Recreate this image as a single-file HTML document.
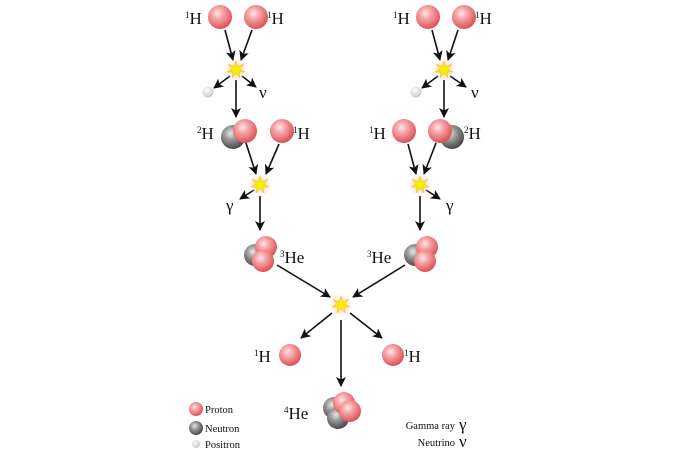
<!DOCTYPE html>
<html><head><meta charset="utf-8"><style>
body{margin:0;background:#fff}
svg{display:block}
text{font-family:"Liberation Serif",serif;fill:#111}
</style></head><body>
<svg width="700" height="460" viewBox="0 0 700 460" xmlns="http://www.w3.org/2000/svg">
<defs>
<radialGradient id="p" cx="0.4" cy="0.35" r="0.65"><stop offset="0" stop-color="#fde6e6"/><stop offset="0.4" stop-color="#f4a0a2"/><stop offset="1" stop-color="#dc5258"/></radialGradient>
<radialGradient id="n" cx="0.4" cy="0.35" r="0.65"><stop offset="0" stop-color="#e8e8e8"/><stop offset="0.4" stop-color="#9a9a9a"/><stop offset="1" stop-color="#4a4a4a"/></radialGradient>
<radialGradient id="e" cx="0.4" cy="0.35" r="0.65"><stop offset="0" stop-color="#fff"/><stop offset="1" stop-color="#c8c8c8"/></radialGradient>
<radialGradient id="g" cx="0.5" cy="0.5" r="0.5"><stop offset="0" stop-color="#ffb0b0" stop-opacity="0.9"/><stop offset="1" stop-color="#ffd0d0" stop-opacity="0"/></radialGradient>
<marker id="a" markerWidth="10" markerHeight="10" refX="9" refY="5" orient="auto" markerUnits="userSpaceOnUse"><path d="M0,0 L10,5 L0,10 L2.5,5z" fill="#111"/></marker>
<g id="star"><circle r="12" fill="url(#g)"/><path d="M0,-9 L2,-3 L8,-6 L4,-1 L9,2 L3,2 L4,8 L0,3 L-4,8 L-3,2 L-9,2 L-4,-1 L-8,-6 L-2,-3z" fill="#f6f000" stroke="#e8c000" stroke-width="0.5"/></g>
</defs>
<g stroke="#111" stroke-width="1.6" fill="none" marker-end="url(#a)">
<line x1="225" y1="30" x2="233" y2="60"/><line x1="252" y1="30" x2="241" y2="60"/>
<line x1="230" y1="76" x2="214" y2="88"/><line x1="242" y1="76" x2="256" y2="87"/>
<line x1="236" y1="80" x2="236" y2="117"/>
<line x1="246" y1="143" x2="256" y2="174"/><line x1="279" y1="144" x2="266" y2="174"/>
<line x1="254" y1="190" x2="240" y2="199"/><line x1="260" y1="196" x2="260" y2="230"/>
<line x1="432" y1="30" x2="440" y2="60"/><line x1="458" y1="30" x2="448" y2="60"/>
<line x1="438" y1="76" x2="422" y2="88"/><line x1="450" y1="76" x2="466" y2="87"/>
<line x1="444" y1="80" x2="444" y2="117"/>
<line x1="408" y1="144" x2="416" y2="174"/><line x1="436" y1="143" x2="424" y2="174"/>
<line x1="426" y1="190" x2="440" y2="199"/><line x1="420" y1="196" x2="420" y2="230"/>
<line x1="277" y1="265" x2="330" y2="297"/><line x1="405" y1="265" x2="353" y2="297"/>
<line x1="332" y1="313" x2="301" y2="338"/><line x1="350" y1="313" x2="382" y2="338"/>
<line x1="341" y1="320" x2="341" y2="386"/>
</g>
<use href="#star" x="236" y="70"/><use href="#star" x="444" y="70"/>
<use href="#star" x="260" y="185"/><use href="#star" x="420" y="185"/>
<use href="#star" x="341" y="305"/>
<g>
<circle cx="220" cy="17" r="12" fill="url(#p)"/><circle cx="256" cy="17" r="12" fill="url(#p)"/>
<circle cx="428" cy="17" r="12" fill="url(#p)"/><circle cx="464" cy="17" r="12" fill="url(#p)"/>
<circle cx="208" cy="92" r="5.5" fill="url(#e)"/><circle cx="416" cy="92" r="5.5" fill="url(#e)"/>
<circle cx="233" cy="137" r="12" fill="url(#n)"/><circle cx="245" cy="131" r="12" fill="url(#p)"/>
<circle cx="282" cy="131" r="12" fill="url(#p)"/>
<circle cx="404" cy="131" r="12" fill="url(#p)"/>
<circle cx="452" cy="137" r="12" fill="url(#n)"/><circle cx="440" cy="131" r="12" fill="url(#p)"/>
<circle cx="255" cy="255" r="11" fill="url(#n)"/><circle cx="266" cy="247" r="11" fill="url(#p)"/><circle cx="263" cy="261" r="11" fill="url(#p)"/>
<circle cx="415" cy="255" r="11" fill="url(#n)"/><circle cx="427" cy="247" r="11" fill="url(#p)"/><circle cx="425" cy="261" r="11" fill="url(#p)"/>
<circle cx="290" cy="355" r="11" fill="url(#p)"/><circle cx="393" cy="355" r="11" fill="url(#p)"/>
<circle cx="334" cy="408" r="11" fill="url(#n)"/><circle cx="338" cy="418" r="11" fill="url(#n)"/><circle cx="344" cy="403" r="11" fill="url(#p)"/><circle cx="350" cy="411" r="11" fill="url(#p)"/>
<circle cx="196" cy="409" r="7" fill="url(#p)"/><circle cx="196" cy="428" r="7" fill="url(#n)"/><circle cx="196" cy="444" r="4" fill="url(#e)"/>
</g>
<g font-size="17">
<text x="185" y="24"><tspan font-size="9" dy="-6">1</tspan><tspan dy="6">H</tspan></text>
<text x="267" y="24"><tspan font-size="9" dy="-6">1</tspan><tspan dy="6">H</tspan></text>
<text x="393" y="24"><tspan font-size="9" dy="-6">1</tspan><tspan dy="6">H</tspan></text>
<text x="475" y="24"><tspan font-size="9" dy="-6">1</tspan><tspan dy="6">H</tspan></text>
<text x="197" y="139"><tspan font-size="9" dy="-6">2</tspan><tspan dy="6">H</tspan></text>
<text x="293" y="139"><tspan font-size="9" dy="-6">1</tspan><tspan dy="6">H</tspan></text>
<text x="369" y="139"><tspan font-size="9" dy="-6">1</tspan><tspan dy="6">H</tspan></text>
<text x="464" y="139"><tspan font-size="9" dy="-6">2</tspan><tspan dy="6">H</tspan></text>
<text x="259" y="98">ν</text><text x="471" y="98">ν</text>
<text x="226" y="211">γ</text><text x="446" y="211">γ</text>
<text x="280" y="263"><tspan font-size="9" dy="-6">3</tspan><tspan dy="6">He</tspan></text>
<text x="367" y="263"><tspan font-size="9" dy="-6">3</tspan><tspan dy="6">He</tspan></text>
<text x="254" y="362"><tspan font-size="9" dy="-6">1</tspan><tspan dy="6">H</tspan></text>
<text x="404" y="362"><tspan font-size="9" dy="-6">1</tspan><tspan dy="6">H</tspan></text>
<text x="284" y="419"><tspan font-size="9" dy="-6">4</tspan><tspan dy="6">He</tspan></text>
</g>
<g font-size="10.5">
<text x="205" y="413">Proton</text><text x="205" y="432">Neutron</text><text x="205" y="448">Positron</text>
<text x="455" y="429" text-anchor="end">Gamma ray</text><text x="455" y="446" text-anchor="end">Neutrino</text>
</g>
<text x="459" y="430" font-size="17">γ</text><text x="459" y="447" font-size="17">ν</text>
</svg>
</body></html>
